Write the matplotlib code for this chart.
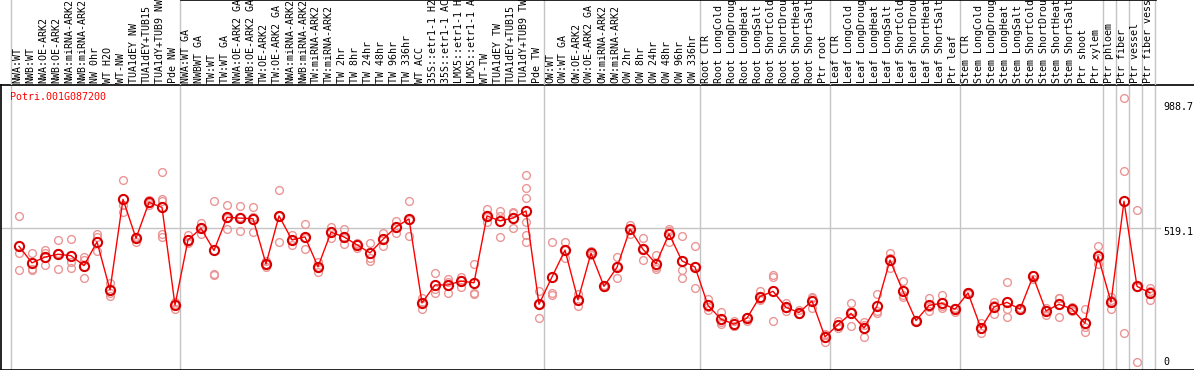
import matplotlib
matplotlib.use("Agg")
import matplotlib.pyplot as plt

labels = [
    "NWA:WT", "NWB:WT", "NWA:OE-ARK2", "NWB:OE-ARK2", "NWA:miRNA-ARK2", "NWB:miRNA-ARK2",
    "NW 0hr", "WT H2O", "WT-NW", "TUA1dEY NW", "TUA1dEY+TUB15", "TUA1dY+TUB9 NW", "Pde NW",
    "NWA:WT GA", "NWBWT GA", "TW:WT", "TW:WT GA", "NWA:OE-ARK2 GA", "NWB:OE-ARK2 GA",
    "TW:OE-ARK2", "TW:OE-ARK2 GA", "NWA:miRNA-ARK2", "NWB:miRNA-ARK2", "TW:miRNA-ARK2",
    "TW:miRNA-ARK2", "TW 2hr", "TW 8hr", "TW 24hr", "TW 48hr", "TW 96hr", "TW 336hr", "WT ACC",
    "35S::etr1-1 H2", "35S::etr1-1 AC", "LMX5::etr1-1 H", "LMX5::etr1-1 A", "WT-TW",
    "TUA1dEY TW", "TUA1dEY+TUB15", "TUA1dY+TUB9 TW", "Pde TW",
    "OW:WT", "OW:WT GA", "OW:OE-ARK2", "OW:OE-ARK2 GA", "OW:miRNA-ARK2", "OW:miRNA-ARK2",
    "OW 2hr", "OW 8hr", "OW 24hr", "OW 48hr", "OW 96hr", "OW 336hr",
    "Root CTR", "Root LongCold", "Root LongDroug", "Root LongHeat", "Root LongSalt",
    "Root ShortCold", "Root ShortDrou", "Root ShortHeat", "Root ShortSalt", "Ptr root",
    "Leaf CTR", "Leaf LongCold", "Leaf LongDroug", "Leaf LongHeat", "Leaf LongSalt",
    "Leaf ShortCold", "Leaf ShortDrou", "Leaf ShortHeat", "Leaf ShortSalt", "Ptr leaf",
    "Stem CTR", "Stem LongCold", "Stem LongDroug", "Stem LongHeat", "Stem LongSalt",
    "Stem ShortCold", "Stem ShortDrou", "Stem ShortHeat", "Stem ShortSalt", "Ptr shoot",
    "Ptr xylem", "Ptr phloem", "Ptr fiber", "Ptr vessel", "Ptr fiber vess",
]

means = [
    453, 393, 414, 424, 419, 383, 469, 295, 623, 482, 612, 594, 240,
    476, 518, 438, 558, 555, 553, 389, 563, 476, 487, 379, 504, 487, 458, 429, 478, 523, 552,
    248, 313, 313, 327, 321, 563, 545, 555, 581, 243,
    342, 439, 259, 428, 308, 377, 515, 442, 390, 498, 400, 378,
    239, 189, 171, 193, 271, 290, 232, 213, 255, 125,
    169, 210, 157, 237, 403, 290, 184, 239, 247, 225,
    284, 156, 233, 250, 225, 344, 219, 243, 226, 174,
    418, 251, 616, 308, 284,
]

replicates = [
    [563, 430, 366], [429, 371, 367], [440, 429, 384], [475, 370, 428], [479, 395, 373],
    [415, 403, 337], [496, 488, 435], [319, 283, 273], [693, 603, 578], [488, 470, 488],
    [621, 609, 603], [721, 624, 617, 498, 488], [252, 225, 244],
    [494, 464, 470], [538, 498, 518], [616, 352, 348], [601, 516, 557], [598, 508, 560],
    [595, 504, 560], [401, 377, 389], [657, 467, 563], [494, 458, 476], [534, 442, 484],
    [397, 361, 379], [524, 482, 505], [515, 461, 484], [464, 446, 463], [466, 410, 400],
    [502, 453, 480], [545, 500, 524], [616, 490, 549],
    [265, 225, 253], [355, 283, 300], [334, 283, 322], [343, 307, 332], [389, 285, 280],
    [588, 540, 560], [582, 487, 563], [572, 518, 576],
    [711, 663, 627, 542, 494, 470], [291, 192, 245],
    [467, 283, 277], [467, 410, 438], [280, 237, 258], [437, 425, 421], [312, 305, 307],
    [413, 337, 380], [531, 496, 516], [482, 402, 442], [421, 371, 377], [515, 470, 508],
    [490, 366, 337], [453, 301, 380],
    [262, 222, 233], [215, 171, 180], [184, 165, 163], [198, 184, 198], [291, 261, 259],
    [348, 183, 340], [247, 220, 230], [222, 208, 207], [271, 229, 266], [134, 108, 132],
    [184, 156, 168], [247, 164, 220], [178, 126, 168], [280, 213, 218], [428, 373, 409],
    [327, 268, 275], [184, 184, 183], [265, 220, 233], [277, 229, 235], [216, 229, 229],
    [284, 286, 282], [174, 140, 154], [252, 208, 240], [323, 227, 198], [228, 222, 225],
    [350, 334, 350], [229, 204, 224], [265, 198, 266], [234, 220, 224], [225, 160, 142],
    [454, 389, 410], [268, 226, 260], [989, 726, 139], [584, 35, 305], [301, 259, 292],
]

separators_after = [-1, 12, 40, 52, 62, 72, 83, 84, 85, 86, 87]
gene = "Potri.001G087200"
axis_labels = ["988.7", "519.1", "0"]
axis_values = [988.7, 519.1, 0.0]

W, H = 1194, 370
fig = plt.figure(figsize=(W / 100, H / 100), dpi=100)
mono = "DejaVu Sans Mono"
fs = 7.2

header_h = 85
x0 = 1
xl = ((x0 - 19) / 13.0, (W - 19) / 13.0)
# y mapping: pixel = 371.4 - 0.2762*v
ylo = (371.4 - H) / 0.2762
yhi = (371.4 - header_h) / 0.2762

ax = fig.add_axes([x0 / W, 0, (W - x0) / W, (H - header_h) / H])
ax.set_xlim(*xl)
ax.set_ylim(ylo, yhi)
ax.set_xticks([])
ax.set_yticks([])
ax.spines["right"].set_visible(False)
for s in ["left", "bottom", "top"]:
    ax.spines[s].set_color("black")
    ax.spines[s].set_linewidth(1.2)

hax = fig.add_axes([x0 / W, (H - header_h) / H, (W - x0) / W, header_h / H])
hax.set_xlim(*xl)
hax.set_ylim(0, 1)
hax.axis("off")

sep_x = [i + 0.5 - 0.12 for i in separators_after]
for sx in sep_x:
    ax.axvline(sx, color="#c4c4c4", lw=1, zorder=1)
    hax.axvline(sx, color="#c4c4c4", lw=1, zorder=1)

# top line over header (partial)
hax.plot([(181 - 19) / 13.0, (1156 - 19) / 13.0], [0.997, 0.997], color="black", lw=1.2,
         clip_on=False)

# horizontal grid at 519.1
ax.plot([xl[0], (1160 - 19) / 13.0], [axis_values[1], axis_values[1]], color="#c4c4c4",
        lw=1, zorder=1)

xs = list(range(len(labels)))
for i, reps in enumerate(replicates):
    ax.plot([i] * len(reps), reps, linestyle="none", marker="o", ms=5.6, mfc="none",
            mec="#eb9696", mew=1.0, zorder=2)
ax.plot(xs, means, color="#ff0000", lw=1.0, zorder=3)
ax.plot(xs, means, linestyle="none", marker="o", ms=6.6, mfc="none", mec="#d80000",
        mew=1.5, zorder=4)

for i, lab in enumerate(labels):
    hax.text(i - 0.15, 2.0 / header_h, lab, rotation=90, ha="center", va="bottom",
             fontsize=fs, family=mono, color="black")

fig.text(10 / W, 1 - 97 / H, gene, color="#ff0000", fontsize=fs, family=mono,
         ha="left", va="center")

label_py = [106.7, 232, 362]
for t, py in zip(axis_labels, label_py):
    fig.text(1163 / W, 1 - py / H, t, fontsize=fs, family=mono, ha="left", va="center",
             color="black")

fig.savefig("out.png", dpi=100)
